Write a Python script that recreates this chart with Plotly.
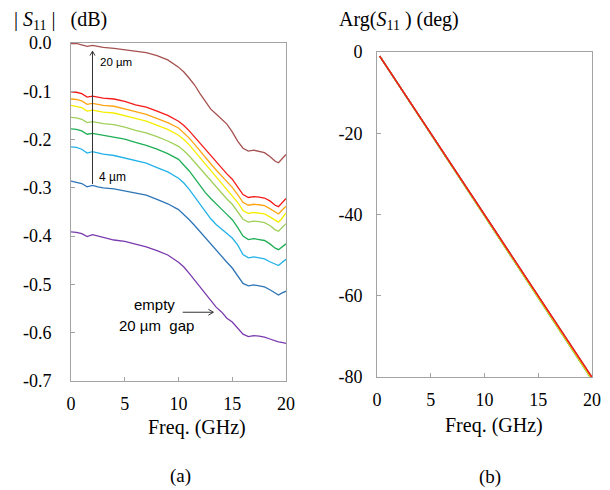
import plotly.graph_objects as go

# the page body adds an 8 px margin, so every target pixel position is shifted back by OFF
OFF = 8
W, H = 610, 490

# ---------------- data ----------------
freq = [0, 0.5, 1, 1.5, 2, 2.5, 3, 4, 5, 6, 7, 8, 9, 10, 10.5, 11, 11.5, 12, 12.5, 13,
        13.5, 14, 14.5, 15, 15.5, 16, 16.5, 17, 17.5, 18, 18.5, 19, 19.3, 19.6, 20]

mag_brown = [-0.001, -0.001, -0.004, -0.007, -0.005, -0.007, -0.009, -0.011, -0.014, -0.017,
             -0.020, -0.026, -0.035, -0.050, -0.060, -0.073, -0.087, -0.105, -0.121, -0.137,
             -0.147, -0.157, -0.168, -0.184, -0.203, -0.218, -0.224, -0.222, -0.224, -0.227,
             -0.235, -0.245, -0.248, -0.241, -0.231]
mag_red = [-0.101, -0.102, -0.105, -0.112, -0.110, -0.112, -0.114, -0.116, -0.121, -0.128,
           -0.133, -0.141, -0.150, -0.162, -0.171, -0.182, -0.195, -0.208, -0.221, -0.234,
           -0.247, -0.259, -0.271, -0.282, -0.297, -0.314, -0.320, -0.318, -0.319, -0.321,
           -0.327, -0.336, -0.339, -0.332, -0.322]
mag_orange = [-0.116, -0.117, -0.120, -0.127, -0.125, -0.127, -0.129, -0.131, -0.136, -0.142,
              -0.148, -0.156, -0.165, -0.176, -0.186, -0.197, -0.210, -0.224, -0.237, -0.250,
              -0.263, -0.275, -0.287, -0.299, -0.314, -0.330, -0.336, -0.334, -0.335, -0.337,
              -0.343, -0.351, -0.354, -0.347, -0.338]
mag_yellow = [-0.129, -0.131, -0.134, -0.141, -0.139, -0.141, -0.143, -0.145, -0.150, -0.156,
              -0.162, -0.170, -0.179, -0.191, -0.200, -0.211, -0.224, -0.238, -0.251, -0.264,
              -0.278, -0.290, -0.303, -0.315, -0.330, -0.347, -0.353, -0.351, -0.352, -0.354,
              -0.360, -0.368, -0.371, -0.364, -0.352]
mag_lightgreen = [-0.154, -0.155, -0.158, -0.165, -0.163, -0.165, -0.167, -0.169, -0.174, -0.181,
                  -0.186, -0.194, -0.203, -0.214, -0.223, -0.234, -0.247, -0.260, -0.273, -0.286,
                  -0.299, -0.311, -0.323, -0.334, -0.349, -0.365, -0.371, -0.369, -0.370, -0.372,
                  -0.378, -0.387, -0.390, -0.384, -0.374]
mag_green = [-0.178, -0.179, -0.182, -0.189, -0.187, -0.189, -0.191, -0.194, -0.199, -0.206,
             -0.212, -0.220, -0.229, -0.241, -0.252, -0.265, -0.280, -0.295, -0.310, -0.322,
             -0.334, -0.344, -0.355, -0.366, -0.382, -0.400, -0.407, -0.405, -0.407, -0.409,
             -0.416, -0.425, -0.428, -0.423, -0.416]
mag_cyan = [-0.215, -0.216, -0.220, -0.228, -0.225, -0.228, -0.230, -0.233, -0.238, -0.244,
            -0.249, -0.258, -0.267, -0.280, -0.290, -0.303, -0.318, -0.334, -0.348, -0.364,
            -0.376, -0.386, -0.395, -0.404, -0.418, -0.438, -0.445, -0.443, -0.445, -0.447,
            -0.453, -0.459, -0.461, -0.455, -0.448]
mag_blue = [-0.286, -0.288, -0.291, -0.298, -0.295, -0.298, -0.300, -0.302, -0.306, -0.311,
            -0.315, -0.324, -0.333, -0.345, -0.355, -0.366, -0.378, -0.391, -0.404, -0.417,
            -0.430, -0.442, -0.454, -0.466, -0.482, -0.498, -0.503, -0.501, -0.503, -0.505,
            -0.511, -0.519, -0.522, -0.518, -0.514]
mag_purple = [-0.391, -0.392, -0.395, -0.401, -0.397, -0.400, -0.403, -0.408, -0.411, -0.417,
              -0.422, -0.430, -0.439, -0.454, -0.464, -0.477, -0.491, -0.505, -0.519, -0.533,
              -0.547, -0.557, -0.570, -0.578, -0.590, -0.603, -0.608, -0.606, -0.607, -0.609,
              -0.613, -0.617, -0.619, -0.620, -0.622]

freq_ph = [0.25, 5, 10, 15, 20]
ph_brown = [-1.0, -20.0, -40.0, -60.0, -80.0]
ph_red = [-1.0, -20.1, -40.1, -60.1, -80.1]
ph_orange = [-1.0, -20.1, -40.2, -60.3, -80.3]
ph_yellow = [-1.0, -20.1, -40.2, -60.4, -80.5]
ph_lightgreen = [-1.0, -20.2, -40.3, -60.5, -80.7]
ph_green = [-1.0, -20.2, -40.3, -60.5, -80.7]
ph_cyan = [-1.0, -20.2, -40.3, -60.4, -80.6]
ph_blue = [-1.0, -20.1, -40.2, -60.3, -80.4]
ph_purple = [-1.0, -20.0, -40.1, -60.1, -80.2]

x_ticks = [0, 5, 10, 15, 20]
mag_ticks = [0.0, -0.1, -0.2, -0.3, -0.4, -0.5, -0.6, -0.7]
mag_ticktext = ["0.0", "-0.1", "-0.2", "-0.3", "-0.4", "-0.5", "-0.6", "-0.7"]
ph_ticks = [0, -20, -40, -60, -80]
ph_ticktext = ["0", "-20", "-40", "-60", "-80"]

# draw order: bottom first, top (red) last
series = [
    ("empty", mag_purple, ph_purple, "#7a3aae"),
    ("4 µm", mag_blue, ph_blue, "#2e75b6"),
    ("6 µm", mag_cyan, ph_cyan, "#22b2e8"),
    ("8 µm", mag_green, ph_green, "#1fae55"),
    ("10 µm", mag_lightgreen, ph_lightgreen, "#9fd05a"),
    ("12 µm", mag_yellow, ph_yellow, "#f6ee00"),
    ("14 µm", mag_orange, ph_orange, "#ffa514"),
    ("20 µm", mag_brown, ph_brown, "#a5514f"),
    ("16 µm", mag_red, ph_red, "#f51a1a"),
]

SERIF = "Liberation Serif, Times New Roman, serif"
SANS = "Liberation Sans, Arial, sans-serif"
GRAY = "#a3a3a3"

fig = go.Figure()
for name, m, p, c in series:
    fig.add_trace(go.Scatter(x=freq, y=m, mode="lines", line=dict(color=c, width=1.3),
                             xaxis="x", yaxis="y", showlegend=False, name=name))
for name, m, p, c in series:
    fig.add_trace(go.Scatter(x=freq_ph, y=p, mode="lines", line=dict(color=c, width=1.3),
                             xaxis="x2", yaxis="y2", showlegend=False, name=name))

def px(x):
    return (x - OFF) / W

def py(y):
    return 1 - (y - OFF) / H

axis_common = dict(showline=True, mirror=True, linecolor=GRAY, linewidth=1,
                   ticks="inside", ticklen=4, tickcolor=GRAY, showgrid=False,
                   zeroline=False, automargin=False,
                   tickfont=dict(family=SERIF, size=18, color="black"))

fig.update_layout(
    width=W, height=H,
    margin=dict(l=0, r=0, t=0, b=0, pad=0, autoexpand=False),
    paper_bgcolor="white", plot_bgcolor="white",
    xaxis=dict(domain=[px(71), px(286)], range=[0, 20], tickvals=x_ticks,
               anchor="y", ticklabelstandoff=6, **axis_common),
    yaxis=dict(domain=[py(381), py(43)], range=[-0.7, 0], tickvals=mag_ticks,
               ticktext=mag_ticktext, anchor="x", ticklabelstandoff=15, **axis_common),
    xaxis2=dict(domain=[px(377), px(592)], range=[0, 20], tickvals=x_ticks,
                anchor="y2", ticklabelstandoff=6, **axis_common),
    yaxis2=dict(domain=[py(377), py(52)], range=[-80, 0], tickvals=ph_ticks,
                ticktext=ph_ticktext, anchor="x2", ticklabelstandoff=10, **axis_common),
)

ann = []
def paper_text(text, x, y, size, xanchor="center", family=SERIF):
    ann.append(dict(text=text, x=px(x), y=py(y), xref="paper", yref="paper",
                    xanchor=xanchor, yanchor="middle", showarrow=False,
                    font=dict(family=family, size=size, color="black")))

paper_text("|&nbsp;<i>S</i><sub>11</sub>&nbsp;|&nbsp;&nbsp;&nbsp;(dB)", 12, 21, 20, "left")
paper_text("Arg(<i>S</i><sub>11</sub> ) (deg)", 337, 21, 20, "left")
paper_text("Freq. (GHz)", 197, 427, 20)
paper_text("Freq. (GHz)", 494, 425, 20)
paper_text("(a)", 180, 476, 19)
paper_text("(b)", 490, 477, 19)

def data_text(text, x, y, size, xanchor="left"):
    ann.append(dict(text=text, x=x, y=y, xref="x", yref="y", xanchor=xanchor,
                    yanchor="middle", showarrow=False,
                    font=dict(family=SANS, size=size, color="black")))

data_text("20 µm", 2.55, -0.039, 11.5)
data_text("4 µm", 2.45, -0.277, 12)
data_text("empty", 7.8, -0.541, 15, "center")
data_text("20 µm&nbsp; gap", 7.95, -0.585, 15, "center")
fig.update_layout(annotations=ann)

# arrows (drawn in axis coordinates)
arrow_line = dict(color="#333333", width=1)
shapes = [
    dict(type="line", xref="x", yref="y", x0=2.0, x1=2.0, y0=-0.292, y1=-0.017, line=arrow_line),
    dict(type="line", xref="x", yref="y", x0=1.77, x1=2.0, y0=-0.026, y1=-0.017, line=arrow_line),
    dict(type="line", xref="x", yref="y", x0=2.23, x1=2.0, y0=-0.026, y1=-0.017, line=arrow_line),
    dict(type="line", xref="x", yref="y", x0=10.39, x1=13.24, y0=-0.5576, y1=-0.5576, line=arrow_line),
    dict(type="line", xref="x", yref="y", x0=12.78, x1=13.24, y0=-0.5514, y1=-0.5576, line=arrow_line),
    dict(type="line", xref="x", yref="y", x0=12.78, x1=13.24, y0=-0.5638, y1=-0.5576, line=arrow_line),
]
fig.update_layout(shapes=shapes)

fig.write_html("out.html")
